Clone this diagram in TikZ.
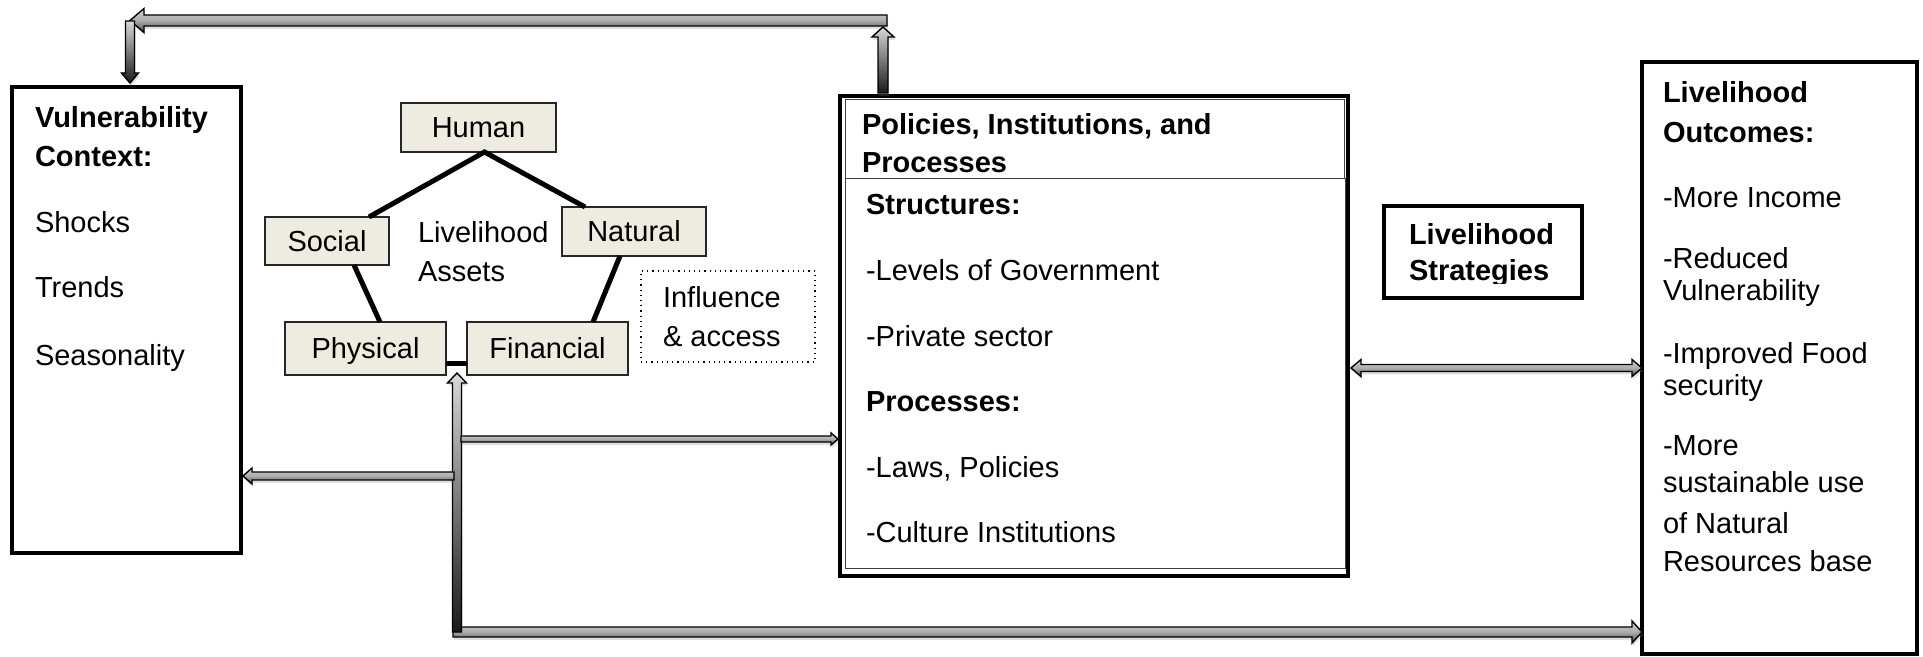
\documentclass[tikz,border=0pt]{standalone}
\usepackage{fontspec}
\setmainfont{Liberation Sans}
\usetikzlibrary{calc,fit,shadows}
\definecolor{assetfill}{RGB}{238,235,224}
% single-headed block arrow: [opts]{from}{to}{half shaft}{half head}{head length}
\newcommand\blockarr[6][]{%
  \coordinate (bh) at ($(#3)!#6!(#2)$);
  \path[blk,#1] ($(#2)!#4!90:(#3)$) -- ($(bh)!#4!90:(#3)$) -- ($(bh)!#5!90:(#3)$)
    -- (#3) -- ($(bh)!#5!-90:(#3)$) -- ($(bh)!#4!-90:(#3)$) -- ($(#2)!#4!-90:(#3)$) -- cycle;}
% double-headed block arrow
\newcommand\dblockarr[6][]{%
  \coordinate (bha) at ($(#2)!#6!(#3)$);
  \coordinate (bhb) at ($(#3)!#6!(#2)$);
  \path[blk,#1] (#2) -- ($(bha)!#5!90:(#3)$) -- ($(bha)!#4!90:(#3)$) -- ($(bhb)!#4!90:(#3)$)
    -- ($(bhb)!#5!90:(#3)$) -- (#3) -- ($(bhb)!#5!-90:(#3)$) -- ($(bhb)!#4!-90:(#3)$)
    -- ($(bha)!#4!-90:(#3)$) -- ($(bha)!#5!-90:(#3)$) -- cycle;}
\begin{document}
\begin{tikzpicture}[x=0.5pt,y=-0.5pt,
  every node/.style={inner sep=0pt,outer sep=0pt,font=\fontsize{14.5}{17}\selectfont},
  txt/.style={anchor=base west},
  bigbox/.style={draw,line width=2.4pt},
  asset/.style={draw=black!85,line width=0.8pt,fill=assetfill,text height=10.5pt,text depth=0pt},
  link/.style={line width=2.5pt},
  blk/.style={draw=black,line width=0.7pt,line join=miter,
    drop shadow={opacity=0.25,shadow xshift=0.6pt,shadow yshift=-1.4pt}},
  hsh/.style={top color=gray!35,bottom color=gray!55!black,middle color=gray!65},
  vsh/.style={top color=gray!30,bottom color=black!90}]
\useasboundingbox (0,0) rectangle (1923,657);

% ---------- Vulnerability context ----------
\node[bigbox,fit={(12,87) (241,553)}] (vul) {};
\node[txt] (v1) at (35,128) {\bfseries Vulnerability};
\node[txt] (v2) at (35,167) {\bfseries Context:};
\node[txt] (v3) at (35,233) {Shocks};
\node[txt] (v4) at (35,298) {Trends};
\node[txt] (v5) at (35,366) {Seasonality};

% ---------- Livelihood assets ----------
\node[asset,minimum width=77.5pt,minimum height=24.5pt] (hum) at (478.5,127.5) {Human};
\node[asset,minimum width=62pt,minimum height=24pt] (soc) at (327,241) {Social};
\node[asset,minimum width=72pt,minimum height=24.5pt] (nat) at (634,231.5) {Natural};
\node[asset,minimum width=80.5pt,minimum height=26.5pt] (phy) at (365.5,348.5) {Physical};
\node[asset,minimum width=80.5pt,minimum height=26.5pt] (fin) at (547.5,348.5) {Financial};
\draw[link] ([xshift=21pt]soc.north) -- ([xshift=3pt]hum.south) -- ([xshift=-24.5pt]nat.north);
\draw[link] ([xshift=13.5pt]soc.south) -- ([xshift=7.25pt]phy.north);
\draw[link] ([xshift=-7pt]nat.south) -- ([xshift=22.75pt]fin.north);
\draw[link] ([yshift=-7.75pt]phy.east) -- ([yshift=-7.75pt]fin.west);
\node[txt] (la1) at (418,243) {Livelihood};
\node[txt] (la2) at (418,282) {Assets};

\node[draw,dotted,line width=0.6pt,fit={(641,271) (815,362)}] (inf) {};
\node[txt] (i1) at (663,308) {Influence};
\node[txt] (i2) at (663,347) {\& access};

% ---------- Policies, institutions, processes ----------
\node[bigbox,fit={(840,96) (1348,576)}] (pip) {};
\node[draw=black!75,line width=0.5pt,fit={(845,100) (1344,179)}] (pipt) {};
\node[txt] (p1) at (862,135) {\bfseries Policies, Institutions, and};
\node[txt] (p2) at (862,173) {\bfseries Processes};
\node[draw=black!75,fill=white,line width=0.5pt,fit={(845,179) (1345,568)}] (str) {};
\node[txt] (s1) at (866,215) {\bfseries Structures:};
\node[txt] (s2) at (866,281) {-Levels of Government};
\node[txt] (s3) at (866,347) {-Private sector};
\node[txt] (s4) at (866,412) {\bfseries Processes:};
\node[txt] (s5) at (866,478) {-Laws, Policies};
\node[txt] (s6) at (866,543) {-Culture Institutions};

% ---------- Livelihood strategies ----------
\node[draw,line width=2pt,fit={(1384,206) (1582,298)}] (strat) {};
\begin{scope}
\clip (1384,206) rectangle (1582,284);
\node[txt] (st1) at (1409,245) {\bfseries Livelihood};
\node[txt] (st2) at (1409,281) {\bfseries Strategies};
\end{scope}

% ---------- Livelihood outcomes ----------
\node[bigbox,fit={(1642,62) (1917,654)}] (out) {};
\node[txt] (o1) at (1663,103) {\bfseries Livelihood};
\node[txt] (o2) at (1663,143) {\bfseries Outcomes:};
\node[txt] (o3) at (1663,208) {-More Income};
\node[txt] (o4) at (1663,269) {-Reduced};
\node[txt] (o5) at (1663,301) {Vulnerability};
\node[txt] (o6) at (1663,364) {-Improved Food};
\node[txt] (o7) at (1663,396) {security};
\node[txt] (o8) at (1663,456) {-More};
\node[txt] (o9) at (1663,493) {sustainable use};
\node[txt] (o10) at (1663,533) {of Natural};
\node[txt] (o11) at (1663,572) {Resources base};

% ---------- block arrows ----------
\coordinate (a1e) at (883,27);
\coordinate (a1s) at ([yshift=1.5pt]a1e |- pip.north);
\coordinate (a2s) at (887,20.5);
\coordinate (a2e) at (130,20.5);
\coordinate (a3s) at (130,21);
\coordinate (a3e) at ([yshift=2pt]a3s |- vul.north);
\coordinate (a4s) at (453,632);
\coordinate (a4e) at (a4s -| out.west);
\coordinate (a5s) at (457,632);
\coordinate (a5e) at (457,373);
\coordinate (a6s) at (461,439);
\coordinate (a6e) at ([xshift=-1pt]a6s -| pip.west);
\coordinate (a7s) at (454,476);
\coordinate (a7e) at ([xshift=1pt]a7s -| vul.east);
\coordinate (a8s) at ([xshift=1.5pt]pip.east |- 0,368);
\coordinate (a8e) at (a8s -| out.west);

\blockarr[hsh]{a2s}{a2e}{2.75pt}{6pt}{7pt}
\blockarr[vsh]{a1s}{a1e}{2.5pt}{5.5pt}{5pt}
\blockarr[vsh]{a3s}{a3e}{2.25pt}{4.25pt}{5pt}
\blockarr[hsh]{a4s}{a4e}{2.5pt}{5.5pt}{5pt}
\blockarr[vsh]{a5s}{a5e}{2.25pt}{4.75pt}{5pt}
\blockarr[hsh]{a6s}{a6e}{1.5pt}{3pt}{3.5pt}
\blockarr[hsh]{a7s}{a7e}{2pt}{4pt}{4.5pt}
\dblockarr[hsh]{a8s}{a8e}{1.75pt}{4.25pt}{5pt}
\end{tikzpicture}
\end{document}
